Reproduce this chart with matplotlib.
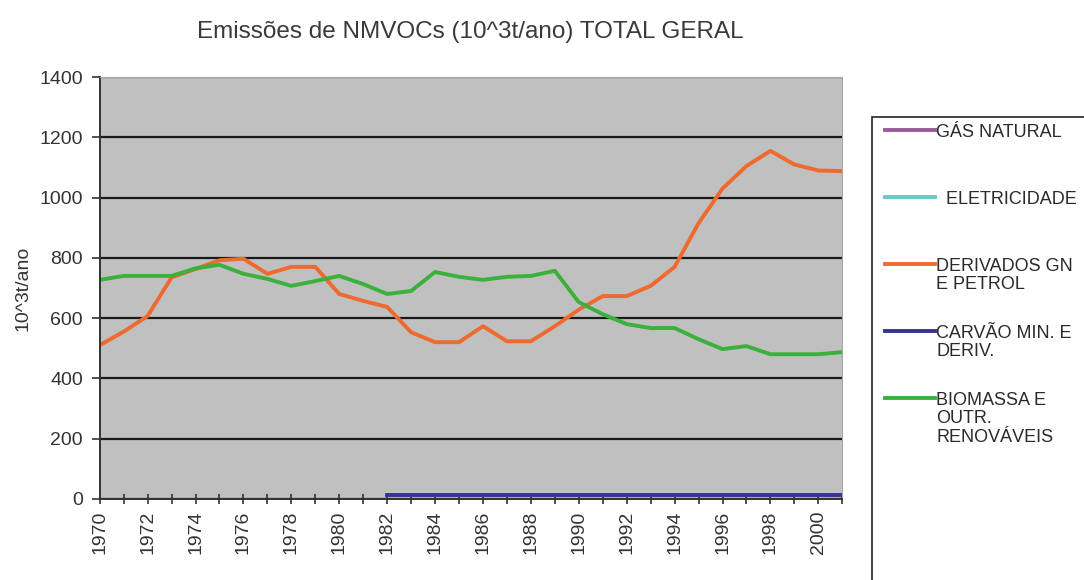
import numpy as np
import matplotlib
matplotlib.use("Agg")
import matplotlib.pyplot as plt
from matplotlib.lines import Line2D
from matplotlib.patches import Rectangle

plt.rcParams['font.family'] = ['Liberation Sans', 'DejaVu Sans']

# anos 1970-2001
anos = list(range(1970, 2002))

# series (10^3 t/ano)
gas_natural = [np.nan] * len(anos)
eletricidade = [np.nan] * len(anos)
derivados = [510, 555, 607, 735, 763, 792, 797, 747, 770, 770, 680, 657,
             637, 553, 520, 520, 573, 523, 523, 573, 628, 673, 673, 707,
             770, 915, 1030, 1105, 1155, 1110, 1090, 1088]
carvao = [np.nan] * 12 + [12] * 20
biomassa = [727, 740, 740, 740, 765, 777, 747, 730, 707, 723, 740, 713,
            680, 690, 753, 737, 727, 737, 740, 757, 653, 613, 580, 567,
            567, 530, 497, 507, 480, 480, 480, 487]

nomes = ["GÁS NATURAL", "  ELETRICIDADE", "DERIVADOS GN\nE PETROL",
         "CARVÃO MIN. E\nDERIV.", "BIOMASSA E\nOUTR.\nRENOVÁVEIS"]
series = [gas_natural, eletricidade, derivados, carvao, biomassa]
cores = ["#9a5c9a", "#6cc8c8", "#ee6a2e", "#343490", "#3cb03c"]

fig = plt.figure(figsize=(10.84, 5.8), dpi=100)
ax = fig.add_axes([0.092, 0.140, 0.685, 0.727])
ax.set_facecolor("#c0c0c0")

for s, c in zip(series, cores):
    ax.plot(anos, s, color=c, lw=2.8, solid_joinstyle="round")

ax.set_xlim(1970, 2001)
ax.set_ylim(0, 1400)
ax.set_yticks(range(0, 1401, 200))
ax.set_xticks(range(1970, 2001, 2))
ax.set_xticks(range(1970, 2002), minor=True)
ax.tick_params(axis="x", which="both", rotation=90, labelsize=14,
               direction="inout", length=7, width=1.2, color="#333333",
               labelcolor="#333333", pad=5)
ax.tick_params(axis="y", labelsize=14, direction="out", length=6,
               width=1.2, color="#333333", labelcolor="#333333", pad=6)
ax.yaxis.grid(True, color="#1a1a1a", lw=1.6)
ax.set_axisbelow(True)
for sp in ["top", "right"]:
    ax.spines[sp].set_color("#a8a8a8")
for sp in ["left", "bottom"]:
    ax.spines[sp].set_color("#333333")
    ax.spines[sp].set_linewidth(1.4)

ax.set_ylabel("10^3t/ano", fontsize=14, labelpad=6, color="#333333")
fig.text(0.434, 0.945, "Emissões de NMVOCs (10^3t/ano) TOTAL GERAL",
         ha="center", va="center", fontsize=17.5, color="#3a3a3a")

# legenda desenhada a mao (caixa cortada na borda)
fig.patches.append(Rectangle((872 / 1084, -0.05), 0.3, 1 - 117 / 580 + 0.05,
                             transform=fig.transFigure, fill=False,
                             edgecolor="#222222", lw=1.2))
y0 = 1 - 130 / 580
passo = 67 / 580
for i, (n, c) in enumerate(zip(nomes, cores)):
    y = y0 - i * passo
    fig.add_artist(Line2D([885 / 1084, 935 / 1084], [y, y],
                          transform=fig.transFigure, color=c, lw=2.8))
    fig.text(936 / 1084, y + 6 / 580, n, ha="left", va="top", fontsize=13,
             color="#2a2a2a", linespacing=1.1)

fig.savefig("out.png", dpi=100, facecolor="white")
